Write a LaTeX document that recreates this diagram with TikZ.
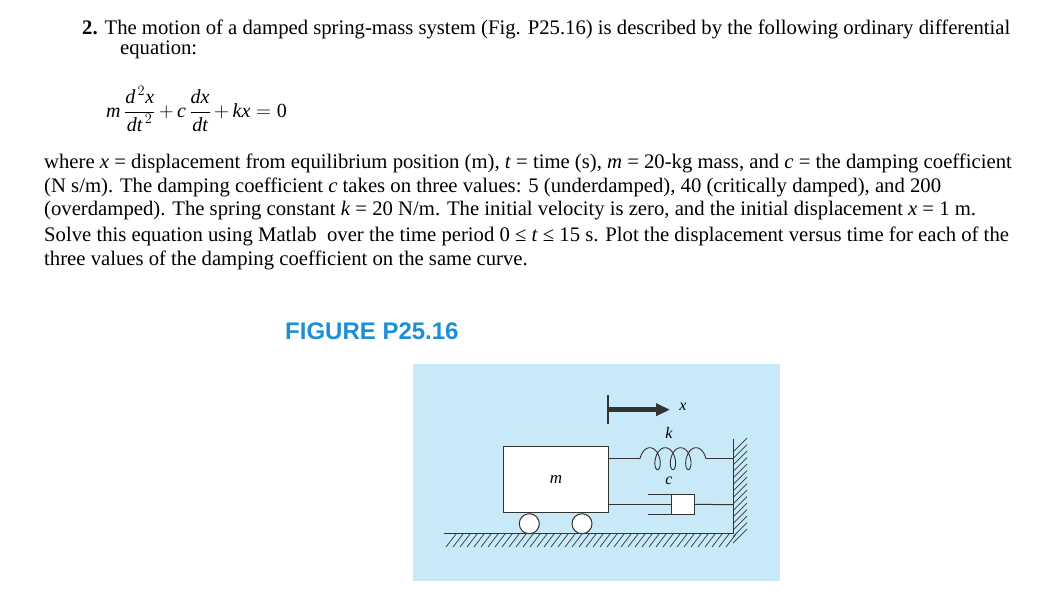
\documentclass[tikz,border=0pt]{standalone}
\usepackage{fontspec}
\setmainfont{Liberation Serif}
\newfontfamily\figsans{Liberation Sans}
\usetikzlibrary{arrows.meta}
\definecolor{figbg}{HTML}{C8E9F8}
\definecolor{figblue}{HTML}{1E8FD5}
\definecolor{ink}{HTML}{333333}
\begin{document}
\begin{tikzpicture}[x=1pt,y=-1pt,
  txt/.style={anchor=west,inner sep=0pt,font=\fontsize{20.7}{24}\selectfont},
  part/.style={draw=ink,line width=1pt}]
\useasboundingbox (0,0) rectangle (1060,606);
\fill[white] (0,0) rectangle (1060,606);
\node[txt] (l1) at (82,29) {\textbf{2.} The motion of a damped spring-mass system (Fig. P25.16) is described by the following ordinary differential};
\node[txt] (l2) at (120,50) {equation:};
\node[txt,font=\fontsize{20}{24}\selectfont] (eq) at (106,109) {$\displaystyle \textit{m}\,\frac{\textit{d}^{\,2}\textit{x}}{\textit{dt}^{\,2}}\,\mathord{+}\,\textit{c}\,\frac{\textit{dx}}{\textit{dt}}\,\mathord{+}\,\textit{kx}\mathrel{=}\mathrm{0}$};
\node[txt] (p1) at (44,163) {where \textit{x} = displacement from equilibrium position (m), \textit{t} = time (s), \textit{m} = 20-kg mass, and \textit{c} = the damping coefficient};
\node[txt] (p2) at (44,187) {(N s/m). The damping coefficient \textit{c} takes on three values: 5 (underdamped), 40 (critically damped), and 200};
\node[txt] (p3) at (44,211) {(overdamped). The spring constant \textit{k} = 20 N/m. The initial velocity is zero, and the initial displacement \textit{x} = 1 m.};
\node[txt] (p4) at (44,236) {Solve this equation using Matlab\ \ over the time period 0 ≤ \textit{t} ≤ 15 s. Plot the displacement versus time for each of the};
\node[txt] (p5) at (44,260) {three values of the damping coefficient on the same curve.};
\node[txt,font=\figsans\bfseries\fontsize{24}{28}\selectfont,text=figblue] (title) at (285,331) {FIGURE P25.16};
% figure
\fill[figbg] (413,364) rectangle (780,581);
% ground
\draw[part] (444,533.7) -- (733,533.7) -- (733,438.7);
\foreach \i in {0,...,40} \draw[ink,line width=0.7pt] (446+7*\i,547) -- (456+7*\i,534);
\foreach \i in {0,...,14} \draw[ink,line width=0.7pt] (733,452+6.5*\i) -- (747,438+6.5*\i);
% mass
\node[part,fill=white,minimum width=105pt,minimum height=65.7pt,inner sep=0pt] (mass) at (556.2,479.8) {};
\node[font=\fontsize{17}{20}\selectfont] (mlab) at (556,479) {\textit{m}};
\draw[part,fill=white] (529.3,523.7) circle (10);
\draw[part,fill=white] (582,523.7) circle (10);
% spring
\coordinate (s0) at (640,458.7);
\coordinate (s1) at (706,458.7);
\draw[part] (mass.east |- s0) -- (s0);
\draw[part,line width=0.9pt] plot[domain=0:21.99,samples=200,smooth] ({640+2.45*\x+6-6*cos(\x r)},{458.7-11*sin(\x r)});
\draw[part] (s1) -- (733,458.7);
\node[font=\fontsize{16}{20}\selectfont] (klab) at (669,433) {\textit{k}};
% dashpot
\coordinate (d0) at (671.3,504.7);
\draw[part] (mass.east |- d0) -- (d0);
\draw[part] (648,494.3) -- (693.7,494.3) -- (693.7,514.3) -- (648,514.3);
\node[part,fill=white,minimum width=22.4pt,minimum height=20pt,inner sep=0pt,anchor=west] (piston) at (671.3,504.3) {};
\draw[part] (piston.east) -- (733,504.7);
\node[font=\fontsize{16}{20}\selectfont] (clab) at (669,481) {\textit{c}};
% x arrow
\draw[ink,line width=1.2pt] (608,395.3) -- (608,423.7);
\coordinate (a1) at (670,409.7);
\draw[ink,line width=5pt,-{Triangle[length=14pt,width=12pt]}] (608,409.7) -- (a1);
\node[font=\fontsize{16}{20}\selectfont] (xlab) at (683,407) {\textit{x}};
\end{tikzpicture}
\end{document}
